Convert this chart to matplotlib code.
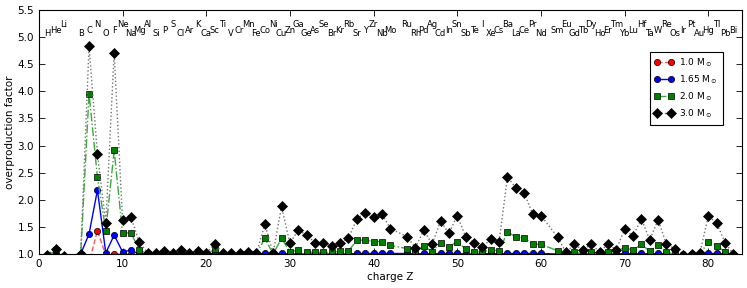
import numpy as np
import matplotlib
matplotlib.use('Agg')
import matplotlib.pyplot as plt

# charge numbers (Be, Tc and Pm are not in the set)
charge = [1, 2, 3, 5, 6, 7, 8, 9, 10, 11,
          12, 13, 14, 15, 16, 17, 18, 19, 20, 21,
          22, 23, 24, 25, 26, 27, 28, 29, 30, 31,
          32, 33, 34, 35, 36, 37, 38, 39, 40, 41,
          42, 44, 45, 46, 47, 48, 49, 50, 51, 52,
          53, 54, 55, 56, 57, 58, 59, 60, 62, 63,
          64, 65, 66, 67, 68, 69, 70, 71, 72, 73,
          74, 75, 76, 77, 78, 79, 80, 81, 82, 83]

elements = ['H', 'He', 'Li', 'B', 'C', 'N', 'O', 'F', 'Ne', 'Na',
            'Mg', 'Al', 'Si', 'P', 'S', 'Cl', 'Ar', 'K', 'Ca', 'Sc',
            'Ti', 'V', 'Cr', 'Mn', 'Fe', 'Co', 'Ni', 'Cu', 'Zn', 'Ga',
            'Ge', 'As', 'Se', 'Br', 'Kr', 'Rb', 'Sr', 'Y', 'Zr', 'Nb',
            'Mo', 'Ru', 'Rh', 'Pd', 'Ag', 'Cd', 'In', 'Sn', 'Sb', 'Te',
            'I', 'Xe', 'Cs', 'Ba', 'La', 'Ce', 'Pr', 'Nd', 'Sm', 'Eu',
            'Gd', 'Tb', 'Dy', 'Ho', 'Er', 'Tm', 'Yb', 'Lu', 'Hf', 'Ta',
            'W', 'Re', 'Os', 'Ir', 'Pt', 'Au', 'Hg', 'Tl', 'Pb', 'Bi']

m100 = [0.97, 0.98, 0.85, 0.95, 0.84, 1.43, 0.98, 1.00, 1.00, 1.00,
        0.97, 0.97, 0.97, 0.97, 0.97, 0.97, 0.97, 0.97, 0.97, 0.97,
        0.97, 0.97, 0.97, 0.97, 0.97, 0.97, 0.97, 0.97, 0.97, 0.97,
        0.97, 0.97, 0.97, 0.97, 0.97, 0.97, 0.97, 0.97, 0.97, 0.97,
        0.97, 0.97, 0.97, 0.97, 0.97, 0.97, 0.97, 0.97, 0.97, 0.97,
        0.97, 0.97, 0.97, 0.97, 0.97, 0.97, 0.97, 0.97, 0.97, 0.97,
        0.97, 0.97, 0.97, 0.97, 0.97, 0.97, 0.97, 0.97, 0.97, 0.97,
        0.97, 0.97, 0.98, 1.00, 1.00, 0.98, 0.97, 0.97, 0.97, 0.97]

m165 = [0.99, 1.00, 0.90, 1.00, 1.37, 2.18, 1.02, 1.35, 1.04, 1.07,
        1.00, 0.99, 1.00, 0.99, 1.00, 0.99, 1.00, 0.99, 1.00, 1.01,
        0.99, 0.99, 1.00, 1.00, 1.00, 1.01, 1.00, 1.01, 1.00, 1.00,
        1.00, 1.00, 1.00, 1.00, 1.00, 1.00, 1.01, 1.01, 1.01, 1.01,
        1.01, 1.01, 1.00, 1.01, 1.00, 1.01, 1.01, 1.01, 1.00, 1.00,
        1.00, 1.01, 1.00, 1.01, 1.01, 1.01, 1.01, 1.01, 1.00, 0.99,
        1.00, 1.00, 1.00, 0.99, 1.00, 1.00, 1.01, 1.00, 1.01, 1.00,
        1.01, 1.00, 0.99, 0.98, 0.98, 0.99, 1.01, 1.01, 1.00, 0.99]

m200 = [0.95, 1.07, 0.90, 0.99, 3.96, 2.42, 1.43, 2.91, 1.39, 1.39,
        1.08, 1.00, 0.99, 1.00, 0.99, 1.00, 0.99, 1.00, 0.99, 1.09,
        0.99, 0.99, 1.00, 1.00, 1.00, 1.29, 1.00, 1.29, 1.04, 1.07,
        1.04, 1.03, 1.03, 1.03, 1.05, 1.06, 1.25, 1.26, 1.23, 1.23,
        1.16, 1.10, 1.04, 1.15, 1.04, 1.21, 1.13, 1.23, 1.09, 1.04,
        1.04, 1.07, 1.06, 1.40, 1.32, 1.30, 1.18, 1.18, 1.06, 0.99,
        1.03, 1.01, 1.03, 1.01, 1.03, 1.05, 1.12, 1.07, 1.18, 1.05,
        1.17, 1.03, 1.00, 0.97, 0.98, 0.99, 1.23, 1.15, 1.04, 0.99]

m300 = [0.98, 1.10, 0.97, 1.00, 4.83, 2.85, 1.57, 4.71, 1.63, 1.68,
        1.22, 1.02, 1.01, 1.06, 1.01, 1.08, 1.01, 1.05, 1.01, 1.19,
        1.01, 1.01, 1.01, 1.04, 1.01, 1.55, 1.02, 1.88, 1.20, 1.44,
        1.35, 1.21, 1.21, 1.14, 1.20, 1.29, 1.65, 1.76, 1.69, 1.74,
        1.47, 1.32, 1.12, 1.44, 1.18, 1.61, 1.38, 1.71, 1.32, 1.20,
        1.13, 1.27, 1.23, 2.42, 2.22, 2.13, 1.74, 1.71, 1.31, 1.03,
        1.18, 1.07, 1.18, 1.04, 1.18, 1.08, 1.46, 1.33, 1.65, 1.26,
        1.63, 1.18, 1.10, 0.99, 1.00, 1.02, 1.70, 1.57, 1.21, 1.00]

masses = ['1.0', '1.65', '2.0', '3.0']

# label heights cycle through three levels
label_levels = [5.02, 5.075, 5.19]

fig = plt.figure(figsize=(7.47, 2.88), dpi=100)
ax = fig.add_axes([0.052, 0.118, 0.941, 0.847])

ax.plot(charge, m100, linestyle='--', color='#ff5a5a', linewidth=1.0, marker='o', markersize=4.5,
        markerfacecolor='r', markeredgecolor='k', markeredgewidth=0.5, label=masses[0] + r' M$_\odot$')
ax.plot(charge, m165, linestyle='-', color='b', linewidth=1.0, marker='o', markersize=4.5,
        markerfacecolor='b', markeredgecolor='k', markeredgewidth=0.5, label=masses[1] + r' M$_\odot$')
ax.plot(charge, m200, linestyle='-.', color='#3fa83f', linewidth=1.0, marker='s', markersize=4.5,
        markerfacecolor='g', markeredgecolor='k', markeredgewidth=0.5, label=masses[2] + r' M$_\odot$')
ax.plot(charge, m300, linestyle=':', color='0.45', linewidth=1.0, marker='D', markersize=5,
        markerfacecolor='k', markeredgecolor='k', markeredgewidth=0.5, label=masses[3] + r' M$_\odot$')

for i, (z, el) in enumerate(zip(charge, elements)):
    ax.text(z, label_levels[i % 3], el, ha='center', va='baseline', fontsize=6)

ax.set_xlim(0, 84)
ax.set_ylim(1.0, 5.5)
ax.set_xticks(np.arange(0, 81, 10))
ax.set_yticks(np.arange(1.0, 5.51, 0.5))
ax.yaxis.set_major_formatter(matplotlib.ticker.FormatStrFormatter('%.1f'))
ax.tick_params(direction='in', top=True, right=True, labelsize=7.5, length=4, width=0.6)
for sp in ax.spines.values():
    sp.set_linewidth(0.8)

ax.set_xlabel('charge Z', fontsize=7.5, labelpad=2)
ax.set_ylabel('overproduction factor', fontsize=7.5, labelpad=2)

leg = ax.legend(loc='upper right', bbox_to_anchor=(0.973, 0.828), borderaxespad=0, numpoints=2,
                fontsize=6.5, fancybox=False, framealpha=1, handlelength=2.2, handletextpad=0.6,
                labelspacing=0.5, borderpad=0.5)
leg.get_frame().set_edgecolor('k')
leg.get_frame().set_linewidth(0.8)

fig.savefig('out.png', dpi=100)
